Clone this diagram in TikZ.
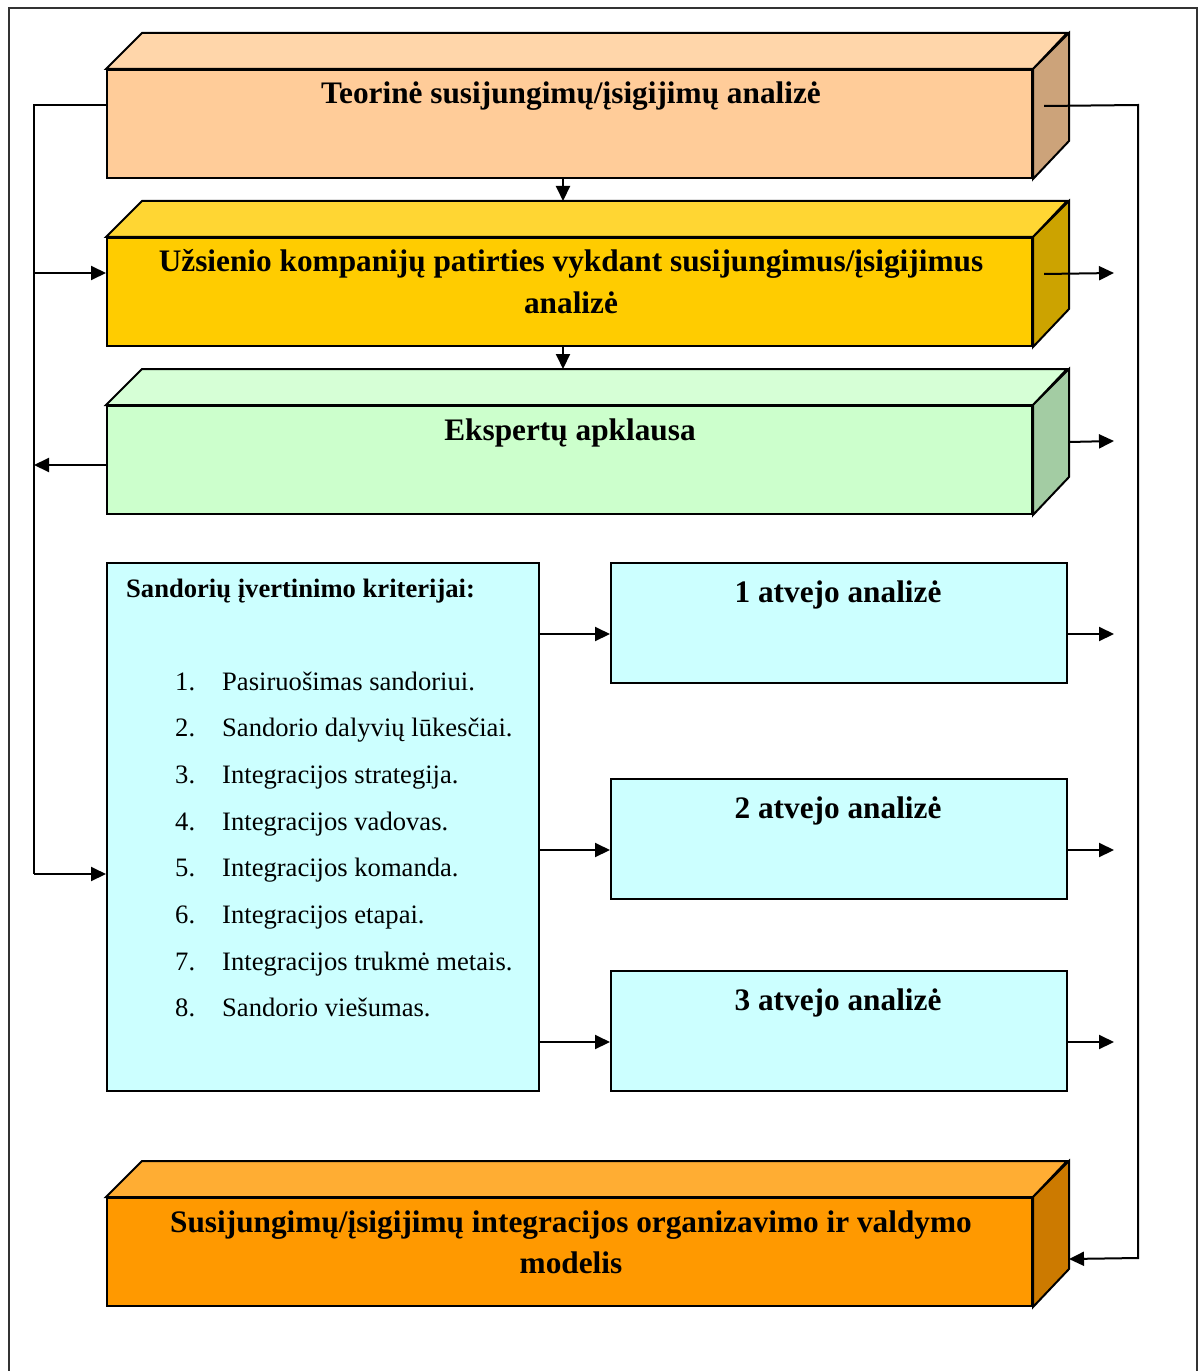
\documentclass[tikz,border=0pt]{standalone}
\usepackage{fontspec}
\setmainfont{Liberation Serif}
\usetikzlibrary{arrows.meta,calc}

\definecolor{peachF}{HTML}{FFCC99}
\definecolor{peachT}{HTML}{FFD6AA}
\definecolor{peachS}{HTML}{CCA37A}
\definecolor{goldF}{HTML}{FFCC00}
\definecolor{goldT}{HTML}{FFD633}
\definecolor{goldS}{HTML}{CCA300}
\definecolor{mintF}{HTML}{CCFFCC}
\definecolor{mintT}{HTML}{D6FFD6}
\definecolor{mintS}{HTML}{A3CCA3}
\definecolor{orgF}{HTML}{FF9900}
\definecolor{orgT}{HTML}{FFAD33}
\definecolor{orgS}{HTML}{CC7A00}
\definecolor{cyanF}{HTML}{CCFFFF}

% top and side faces of a box whose front face is node #1
\newcommand\cuboidfaces[3]{%
  \filldraw[face,fill=#2] (#1.north west) -- ++(36,-36) -- ++(925,0) -- (#1.north east) -- cycle;
  \filldraw[face,fill=#3] (#1.north east) -- ++(36,-36) -- ++(0,108) -- (#1.south east) -- cycle;
}

\begin{document}
\begin{tikzpicture}[x=1bp,y=-1bp,
  face/.style={draw=black,line width=2bp,line join=miter},
  front/.style={face,minimum width=925bp,minimum height=108bp,inner sep=0pt,anchor=north west},
  flat/.style={draw=black,line width=2bp,inner sep=0pt,anchor=north west,fill=cyanF},
  conn/.style={line width=2bp,-{Triangle[length=15bp,width=14bp]}},
  head/.style={font=\fontsize{31.3bp}{40bp}\selectfont\bfseries,anchor=base,inner sep=0pt},
  subhead/.style={font=\fontsize{26.6bp}{32bp}\selectfont\bfseries,anchor=base west,inner sep=0pt},
  item/.style={font=\fontsize{26.6bp}{32bp}\selectfont,anchor=base west,inner sep=0pt}]

\useasboundingbox (0,0) rectangle (1202,1371);

% page frame, open at the bottom
\draw[line width=2bp,black!80] (8.5,1371) -- (8.5,8.5) -- (1196.5,8.5) -- (1196.5,1371);

% three-dimensional blocks
\node[front,fill=peachF] (b1) at (106,69) {};
\cuboidfaces{b1}{peachT}{peachS}
\node[front,fill=goldF] (b2) at (106,237) {};
\cuboidfaces{b2}{goldT}{goldS}
\node[front,fill=mintF] (b3) at (106,405) {};
\cuboidfaces{b3}{mintT}{mintS}
\node[front,fill=orgF] (b5) at (106,1197) {};
\cuboidfaces{b5}{orgT}{orgS}

\node[head] (b1t) at (571,104) {Teorinė susijungimų/įsigijimų analizė};
\node[head] (b2t1) at (571,272) {Užsienio kompanijų patirties vykdant susijungimus/įsigijimus};
\node[head] (b2t2) at (571,313) {analizė};
\node[head] (b3t) at (570,440) {Ekspertų apklausa};
\node[head] (b5t1) at (571,1232) {Susijungimų/įsigijimų integracijos organizavimo ir valdymo};
\node[head] (b5t2) at (571,1273) {modelis};

% criteria box
\node[flat,minimum width=432bp,minimum height=528bp] (crit) at (106,562) {};
\node[subhead] (crith) at (126,597) {Sandorių įvertinimo kriterijai:};
\foreach \n/\t [count=\i from 0] in {1/Pasiruošimas sandoriui.,
    2/Sandorio dalyvių lūkesčiai.,
    3/Integracijos strategija.,
    4/Integracijos vadovas.,
    5/Integracijos komanda.,
    6/Integracijos etapai.,
    7/Integracijos trukmė metais.,
    8/Sandorio viešumas.}{
  \node[item] (num\n) at (175,690+46.7*\i) {\n.};
  \node[item] (itm\n) at (222,690+46.7*\i) {\t};
}

% case boxes
\node[flat,minimum width=456bp,minimum height=120bp] (c1) at (610,562) {};
\node[flat,minimum width=456bp,minimum height=120bp] (c2) at (610,778) {};
\node[flat,minimum width=456bp,minimum height=120bp] (c3) at (610,970) {};
\node[head] (c1t) at (838,602) {1 atvejo analizė};
\node[head] (c2t) at (838,818) {2 atvejo analizė};
\node[head] (c3t) at (838,1010) {3 atvejo analizė};

% helper points of the connectors
\coordinate (L1) at (34,105);
\coordinate (L2) at (34,273);
\coordinate (L3) at (34,465);
\coordinate (L4) at (34,874);
\coordinate (R1) at (1138,105);
\coordinate (R5) at (1138,1258);
\coordinate (o2) at (1114,273);
\coordinate (o3) at (1114,441);
\coordinate (oc) at (1114,0);

% downward links between blocks
\draw[conn] ($(b1.south)+(-6.5,0)$) -- ($(b2.north)+(-6.5,-36)$);
\draw[conn] ($(b2.south)+(-6.5,0)$) -- ($(b3.north)+(-6.5,-36)$);

% left feedback line
\draw[line width=2bp] (L1 -| b1.west) -- (L1) -- (L4);
\draw[conn] (L4) -- (L4 -| crit.west);
\draw[conn] (L2) -- (L2 -| b2.west);
\draw[conn] (L3 -| b3.west) -- (L3);

% right line to the model
\draw[conn] ($(b1.east)+(11,-18)$) -- (R1) -- (R5) -- ($(b5.east)+(36,7)$);

% outgoing arrows on the right
\draw[conn] ($(b2.east)+(11,-18)$) -- (o2);
\draw[conn] ($(b3.east)+(36,-18)$) -- (o3);

% criteria to cases, cases outward
\foreach \c in {c1,c2,c3}{
  \draw[conn] ($(\c.west -| crit.east)+(0,11)$) -- ($(\c.west)+(0,11)$);
  \draw[conn] ($(\c.east)+(0,11)$) -- ($(\c.east -| oc)+(0,11)$);
}
\end{tikzpicture}
\end{document}
